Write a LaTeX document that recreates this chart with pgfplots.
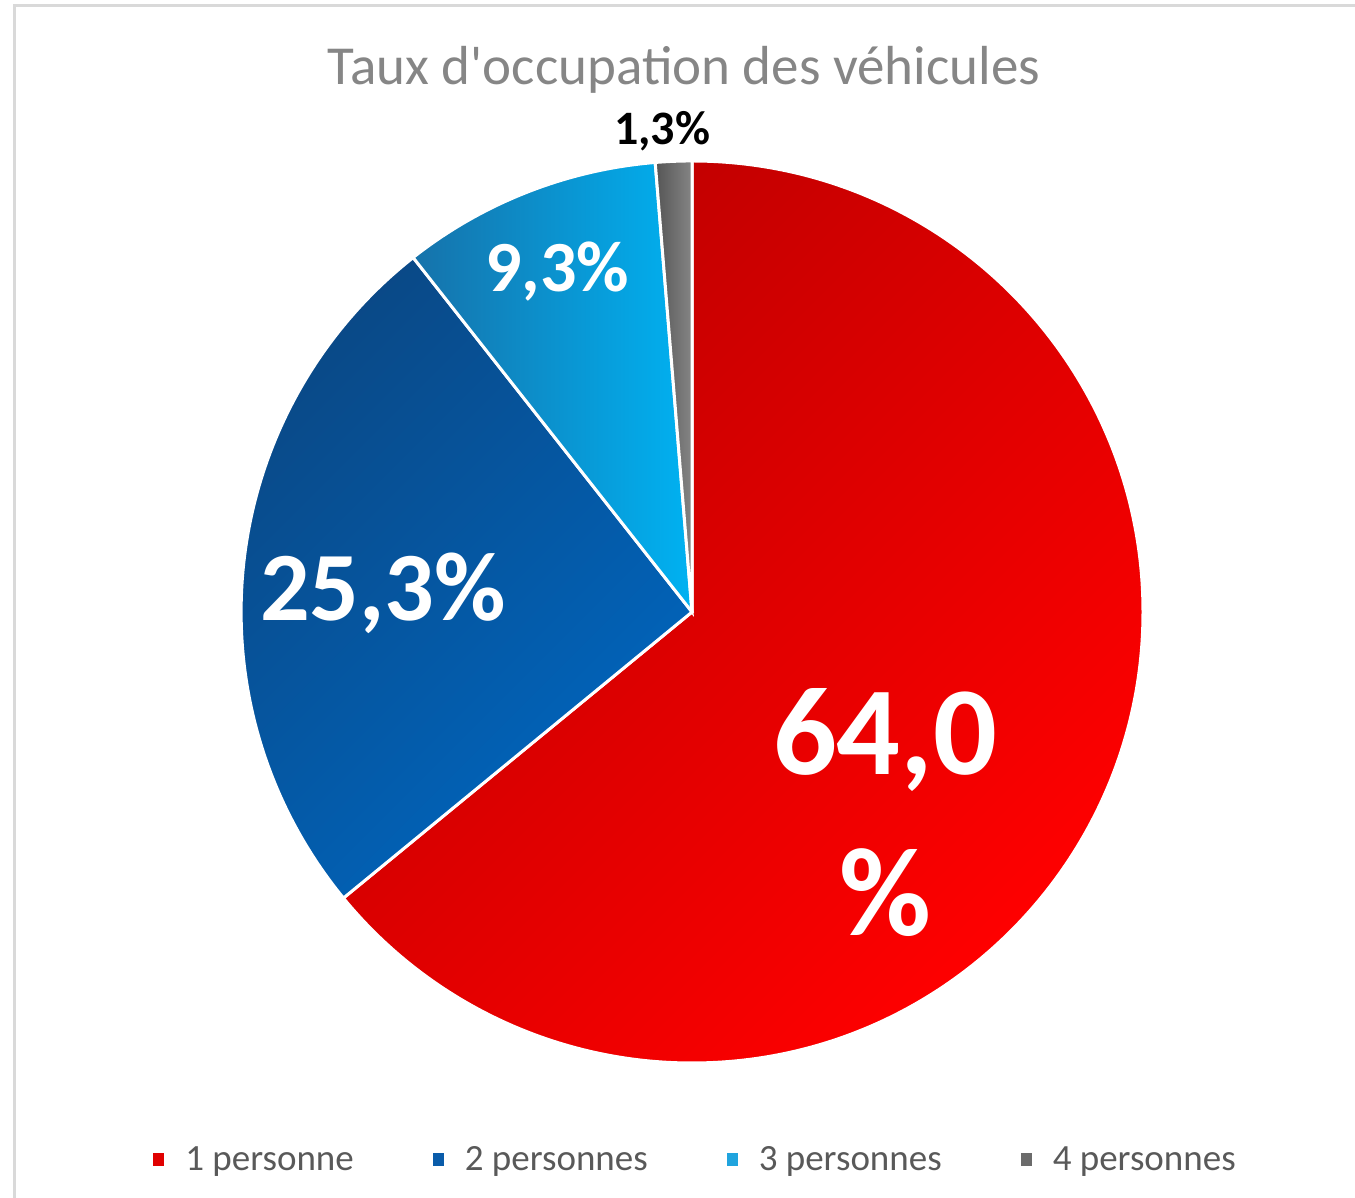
\documentclass[border=0pt]{standalone}
\usepackage{fontspec}
\setmainfont{Carlito}
\newfontfamily\titlefont{Carlito}[Ligatures=ResetAll]
\usepackage{pgfplots}
\pgfplotsset{compat=1.18}
\definecolor{framegray}{HTML}{D9D9D9}
\definecolor{titlegray}{HTML}{868686}
\definecolor{legendgray}{HTML}{595959}
\definecolor{redA}{HTML}{BE0000}
\definecolor{redB}{HTML}{FF0000}
\definecolor{blueA}{HTML}{0A4885}
\definecolor{blueB}{HTML}{0066BF}
\definecolor{cyanA}{HTML}{1672AA}
\definecolor{cyanB}{HTML}{00B2F2}
\definecolor{grayA}{HTML}{555555}
\definecolor{grayB}{HTML}{858585}
\definecolor{leg1}{HTML}{E00000}
\definecolor{leg2}{HTML}{0A5CAA}
\definecolor{leg3}{HTML}{20A4DE}
\definecolor{leg4}{HTML}{6B6B6B}

% shares (%): 64.0, 25.3, 9.3, 1.3 -> clockwise from 12 o'clock
% cut angles: 90, -140.63, -231.80, -265.32, -270

\begin{document}
\begin{tikzpicture}[x=0.5pt,y=0.5pt]
\path[use as bounding box] (0,0) rectangle (1355,1198);
\draw[framegray, line width=1.5pt] (14,0) -- (14,1192) -- (1355,1192);
\node[anchor=base, inner sep=0pt, text=titlegray, font=\titlefont\fontsize{27.5}{33}\selectfont]
  at (684,1113) {Taux d'occupation des véhicules};

\begin{axis}[
  at={(346pt,293pt)}, anchor=origin,
  width=451pt, height=451pt, scale only axis,
  xmin=-1, xmax=1, ymin=-1, ymax=1,
  hide axis, clip=false,
  legend columns=4,
  legend image code/.code={\path[draw=none, fill=none] (0pt,-3pt) rectangle (14pt,3.5pt);
    \fill[#1] (0pt,-3pt) rectangle (5.5pt,3.5pt);},
  legend style={draw=none, fill=none, at={(0.505,-0.1075)}, anchor=center,
    font=\fontsize{18.5}{22}\selectfont, text=legendgray,
    /tikz/every even column/.append style={column sep=37.5pt}},
]
% 1 personne
\addplot[forget plot, draw=white, line width=1.5pt,
  top color=redA, bottom color=redB, shading angle=45]
  coordinates {(0,0) (0,1)}
  arc[start angle=90, end angle=-140.63, radius=225.5pt] -- cycle;
% 2 personnes
\addplot[forget plot, draw=white, line width=1.5pt,
  top color=blueA, bottom color=blueB, shading angle=45]
  coordinates {(0,0) (-0.7728,-0.6343)}
  arc[start angle=-140.63, end angle=-231.80, radius=225.5pt] -- cycle;
% 3 personnes
\addplot[forget plot, draw=white, line width=1.5pt,
  left color=cyanA, right color=cyanB]
  coordinates {(0,0) (-0.6184,0.7859)}
  arc[start angle=-231.80, end angle=-265.32, radius=225.5pt] -- cycle;
% 4 personnes
\addplot[forget plot, draw=white, line width=1.5pt,
  left color=grayA, right color=grayB]
  coordinates {(0,0) (-0.0816,0.9967)}
  arc[start angle=-265.32, end angle=-270, radius=225.5pt] -- cycle;

\node[text=white, font=\fontsize{63}{70}\selectfont\bfseries] at (axis cs:0.428,-0.284) {64,0};
\node[text=white, font=\fontsize{63}{70}\selectfont\bfseries] at (axis cs:0.428,-0.623) {\%};
\node[text=white, font=\fontsize{49}{56}\selectfont\bfseries] at (axis cs:-0.685,0.042) {25,3\%};
\node[text=white, font=\fontsize{36}{42}\selectfont\bfseries] at (axis cs:-0.299,0.754) {9,3\%};
\node[text=black, font=\fontsize{24}{28}\selectfont\bfseries] at (axis cs:-0.0665,1.066) {1,3\%};

\addlegendimage{fill=leg1, draw=none}
\addlegendentry{1 personne}
\addlegendimage{fill=leg2, draw=none}
\addlegendentry{2 personnes}
\addlegendimage{fill=leg3, draw=none}
\addlegendentry{3 personnes}
\addlegendimage{fill=leg4, draw=none}
\addlegendentry{4 personnes}
\end{axis}
\end{tikzpicture}
\end{document}
